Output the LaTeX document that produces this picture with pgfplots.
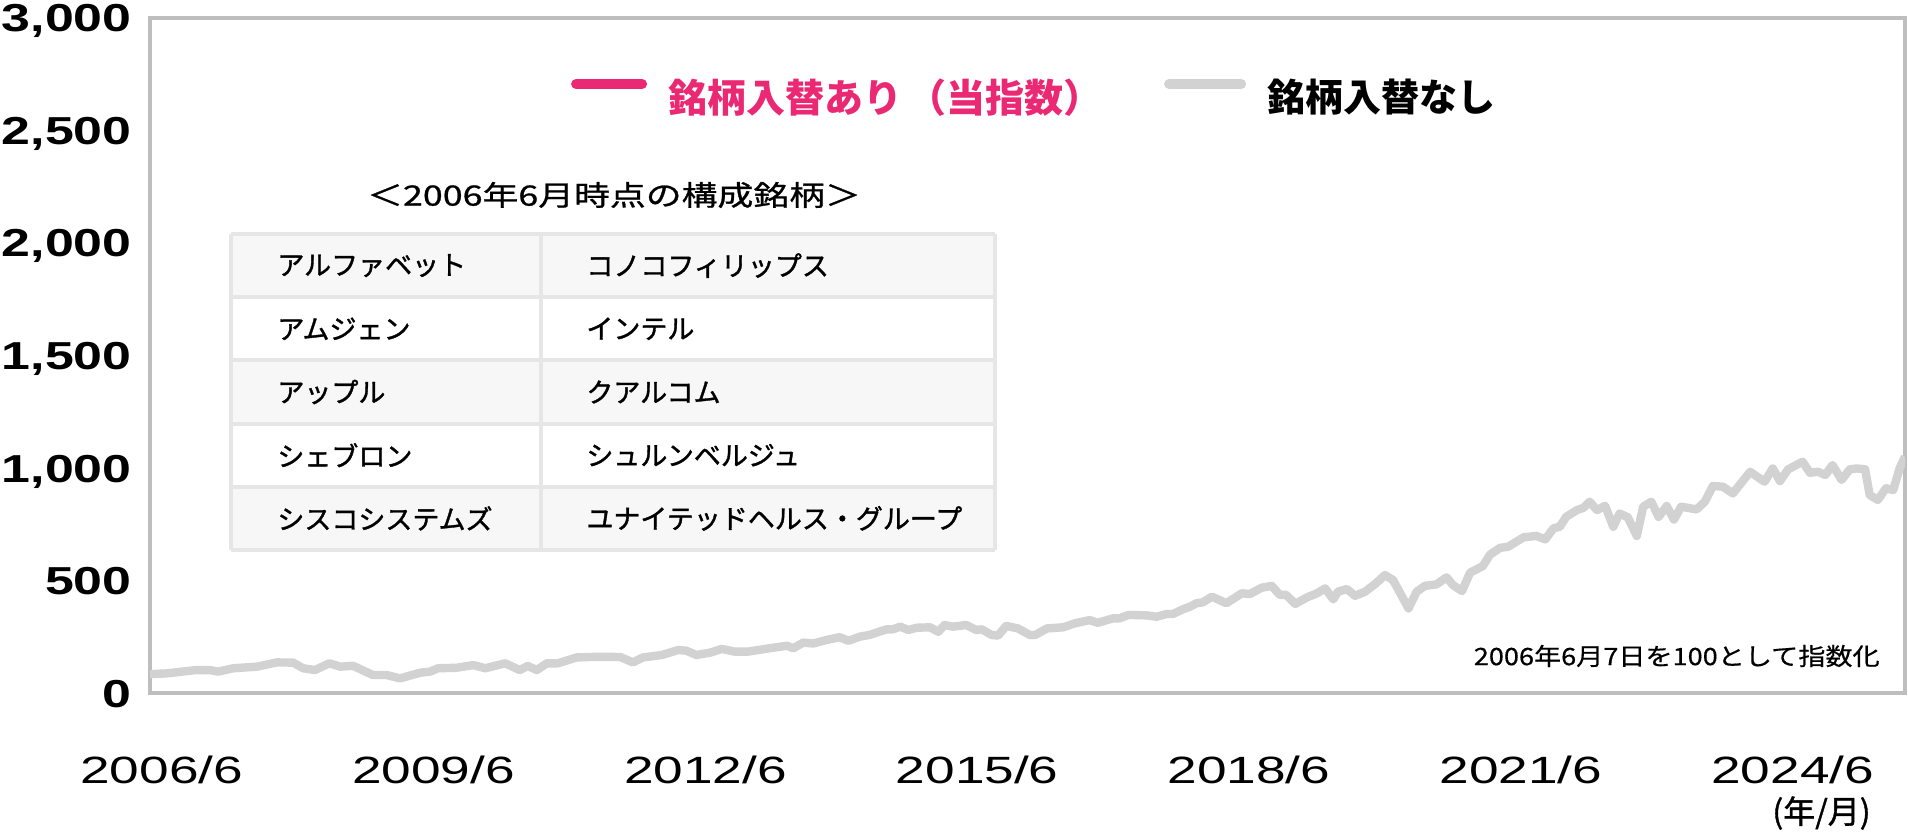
\documentclass[border=0pt]{standalone}
\usepackage{pgfplots}
\pgfplotsset{compat=1.18}
\usepackage{fontspec}
\setmainfont{Noto Sans CJK JP}
\newfontfamily\jp{Noto Sans CJK JP}
\newfontfamily\jpunit[FakeBold=1.2]{Noto Sans CJK JP}
\newfontfamily\jpwide[FakeStretch=1.28,FakeBold=0.9]{Noto Sans CJK JP}
\newfontfamily\jpnote[FakeStretch=1.13,FakeBold=0.5]{Noto Sans CJK JP}
\newfontfamily\jptab[FakeBold=1.3]{Noto Sans CJK JP}
\newfontfamily\xnum[FakeStretch=1.4]{Liberation Sans}
\newfontfamily\ynum[FakeStretch=1.33]{Liberation Sans}

\definecolor{jpink}{RGB}{235,40,115}
\definecolor{lgray}{RGB}{210,210,210}
\definecolor{axgray}{RGB}{190,190,190}
\definecolor{tabline}{RGB}{230,230,230}
\definecolor{tabfill}{RGB}{247,247,247}

% index without constituent changes (2006/6/7 = 100)
\pgfplotstableread{
year value
2006.29 84
2006.47 87
2006.80 102
2006.95 102
2007.04 95
2007.21 110
2007.47 117
2007.69 136
2007.87 135
2007.98 110
2008.11 102
2008.27 132
2008.39 117
2008.53 121
2008.75 80
2008.90 80
2009.05 65
2009.27 90
2009.38 95
2009.47 110
2009.67 112
2009.86 124
2009.99 110
2010.21 132
2010.37 102
2010.46 120
2010.56 102
2010.67 132
2010.79 132
2011.00 158
2011.22 161
2011.48 160
2011.62 136
2011.73 158
2011.94 169
2012.12 191
2012.21 188
2012.32 169
2012.47 179
2012.60 196
2012.74 184
2012.89 184
2013.13 199
2013.32 210
2013.39 199
2013.50 224
2013.61 220
2013.76 236
2013.90 248
2014.00 232
2014.12 250
2014.23 258
2014.42 283
2014.49 283
2014.57 295
2014.66 280
2014.75 290
2014.90 292
2014.99 272
2015.06 302
2015.15 295
2015.30 302
2015.41 280
2015.47 283
2015.58 258
2015.65 255
2015.74 298
2015.87 287
2016.00 258
2016.06 258
2016.19 287
2016.37 292
2016.50 310
2016.66 324
2016.75 312
2016.92 332
2016.99 332
2017.09 347
2017.29 345
2017.40 339
2017.51 351
2017.58 351
2017.69 372
2017.77 384
2017.84 399
2017.91 403
2018.01 428
2018.17 399
2018.34 443
2018.43 440
2018.56 468
2018.67 476
2018.76 436
2018.83 436
2018.93 396
2019.06 425
2019.17 443
2019.26 465
2019.35 416
2019.40 450
2019.50 462
2019.59 432
2019.70 450
2019.81 484
2019.92 524
2020.01 502
2020.08 450
2020.18 376
2020.27 450
2020.36 476
2020.49 483
2020.60 514
2020.67 480
2020.77 453
2020.86 535
2021.00 564
2021.08 615
2021.19 645
2021.28 650
2021.45 692
2021.59 698
2021.69 683
2021.78 732
2021.85 739
2021.92 783
2022.04 813
2022.11 823
2022.18 850
2022.26 813
2022.35 832
2022.44 739
2022.51 798
2022.60 781
2022.70 698
2022.77 828
2022.86 850
2022.94 783
2023.03 831
2023.11 771
2023.19 828
2023.36 816
2023.45 850
2023.54 920
2023.65 917
2023.76 887
2023.95 983
2024.11 939
2024.20 998
2024.28 942
2024.37 994
2024.53 1028
2024.61 979
2024.70 983
2024.78 969
2024.86 1013
2024.96 947
2025.05 994
2025.13 998
2025.22 994
2025.27 880
2025.36 858
2025.45 910
2025.53 902
2025.60 998
2025.66 1050
}\nochange

\begin{document}
\begin{tikzpicture}
\useasboundingbox (-75pt,-71.5pt) rectangle (879pt,346.5pt);
\begin{axis}[
  scale only axis,
  width=877.5pt, height=337.5pt,
  xmin=2006.29, xmax=2025.66,
  ymin=0, ymax=3000,
  axis line style={draw=axgray, line width=1.7pt},
  major tick length=0pt,
  xtick={2006.42,2009.42,2012.42,2015.42,2018.42,2021.42,2024.42},
  xticklabels={2006/6,2009/6,2012/6,2015/6,2018/6,2021/6,2024/6},
  xticklabel style={font=\xnum\fontsize{19}{22}\selectfont, anchor=base, inner sep=0pt, yshift=-45pt},
  ytick={0,500,1000,1500,2000,2500,3000},
  yticklabel style={font=\ynum\bfseries\fontsize{19.5}{22}\selectfont, anchor=base east, inner sep=0pt, xshift=-9pt, yshift=-7pt},
  /pgf/number format/.cd, 1000 sep={,}, assume math mode=true,
  /pgfplots/.cd,
  legend columns=2,
  legend style={draw=none, fill=none, inner sep=0pt, at={(0.2397,0.883)}, anchor=west,
    font=\jp\bfseries\fontsize{19}{22}\selectfont,
    nodes={inner sep=0pt},
    /tikz/every odd column/.append style={column sep=10.5pt},
    /tikz/every even column/.append style={column sep=31pt}},
]
\addlegendimage{legend image code/.code={\draw[jpink, line width=5pt, line cap=round] (0pt,6.5pt) -- (33pt,6.5pt);}}
\addlegendentry{\fontsize{19.5}{22}\selectfont\textcolor{jpink}{銘柄入替あり\hspace{2.5pt}（当指数）}}
\addlegendimage{legend image code/.code={\draw[lgray, line width=5pt, line cap=round] (0pt,6.5pt) -- (36pt,6.5pt);}}
\addlegendentry{銘柄入替なし}
\addplot[lgray, line width=4.2pt, line join=round, forget plot] table[x=year, y=value] {\nochange};
\node[anchor=east, font=\jpnote\fontsize{12}{14}\selectfont, inner sep=0pt] at (axis description cs:0.9858,0.0548) {2006年6月7日を100として指数化};
\end{axis}
% text and table outside the axis (axis box lower left is the origin, 1 px = 0.5 pt)
\node[anchor=east, font=\jpunit\fontsize{16}{18}\selectfont, inner sep=0pt] at (860.5pt,-60pt) {(年/月)};
\foreach \i in {0,2,4} {
  \fill[tabfill] (40.5pt,{229.5pt-\i*31.6pt}) rectangle (422.5pt,{229.5pt-(\i+1)*31.6pt});
}
\foreach \i in {0,1,2,3,4,5} {
  \draw[tabline, line width=2pt] (40.5pt,{229.5pt-\i*31.6pt}) -- (422.5pt,{229.5pt-\i*31.6pt});
}
\draw[tabline, line width=2pt] (40.5pt,229.5pt) -- (40.5pt,71.5pt);
\draw[tabline, line width=2pt] (195.5pt,229.5pt) -- (195.5pt,71.5pt);
\draw[tabline, line width=2pt] (422.5pt,229.5pt) -- (422.5pt,71.5pt);
\node[font=\jpwide\fontsize{14}{16}\selectfont, inner sep=0pt] at (232pt,249pt) {＜2006年6月時点の構成銘柄＞};
\foreach \l/\r [count=\k from 0] in {アルファベット/コノコフィリップス, アムジェン/インテル, アップル/クアルコム, シェブロン/シュルンベルジュ, シスコシステムズ/ユナイテッドヘルス・グループ} {
  \node[anchor=west, font=\jptab\fontsize{13.5}{16}\selectfont, inner sep=0pt] at (63.5pt,{229.5pt-(\k+0.5)*31.6pt}) {\l};
  \node[anchor=west, font=\jptab\fontsize{13.5}{16}\selectfont, inner sep=0pt] at (218pt,{229.5pt-(\k+0.5)*31.6pt}) {\r};
}
\end{tikzpicture}
\end{document}
